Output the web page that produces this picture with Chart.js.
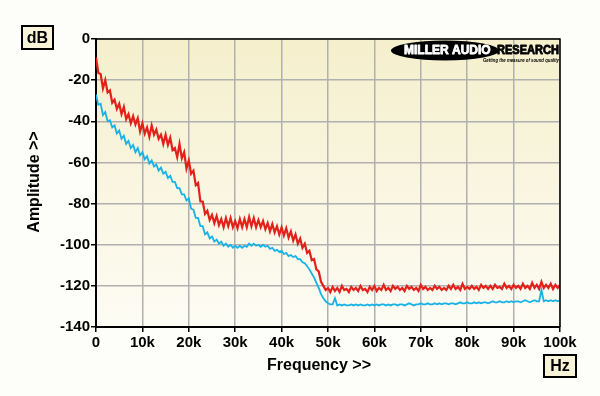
<!DOCTYPE html>
<html><head><meta charset="utf-8">
<script src="https://cdn.jsdelivr.net/npm/chart.js@4/dist/chart.umd.min.js"></script>
<style>html,body{margin:0;padding:0;background:#fdfdf9;}canvas{display:block;}</style>
</head><body>
<canvas id="c" width="600" height="396"></canvas>
<script>
// Sample spacing of the spectrum (Hz)
const freqStepHz = 500;

// Red trace (dB), 0 .. 100 kHz in 0.5 kHz steps
const redDb = [
 -9,-16.5,-17,-24,-20,-26,-25,-31,-29.5,-34,
 -31.5,-36.5,-33,-39,-36.5,-41,-37.5,-41.5,-38.5,-45,
 -41,-46,-43,-47.5,-42,-46.5,-44,-48.5,-46.5,-51,
 -46.5,-51.5,-48,-54,-53,-57.5,-51,-58,-55,-63,
 -59,-65.5,-64,-71,-70,-79,-79,-85,-83.5,-88,
 -85.5,-89.5,-86,-90.5,-87.5,-91.5,-87,-91,-87,-91.5,
 -88.5,-92,-87.5,-91.5,-87.5,-91.5,-86.5,-91,-87,-91.5,
 -88,-91.5,-88.5,-92.5,-89.5,-93.5,-90,-94,-91,-95,
 -91.5,-95.5,-92,-96.5,-93.5,-98,-95,-99.5,-97,-101.5,
 -99.5,-104,-103,-107.5,-107,-112,-113,-118,-120,-122,
 -121,-123,
 -120.5,-122.5,-121,-123,-120,-122,-121.5,-123,-120.5,-122,
 -121,-122.5,-120,-122,-121.5,-123,-120.5,-122,-120,-122.5,
 -121,-122,-119.5,-122,-121,-122.5,-120,-121.5,-120.5,-122,
 -121,-122.5,-120,-121.5,-120.5,-122,-121,-122.5,-119.5,-121.5,
 -120.5,-122,-121,-122,-120,-121.5,-120.5,-122,-121,-122,
 -120,-121.5,-119.5,-121.5,-120.5,-122,-119,-121.5,-120.5,-121.5,
 -120,-121.5,-120.5,-122,-119.5,-121,-120,-121.5,-120,-121.5,
 -119.5,-121,-120.5,-121.5,-119,-121,-120,-121.5,-119.5,-121,
 -120,-121.5,-119,-121,-120,-121.5,-118.5,-121,-119.5,-121.5,
 -118,-121,-119.5,-121,-119,-121.5,-119.5,-121,-119.5
];

// Blue trace (dB), 0 .. 100 kHz in 0.5 kHz steps
const blueDb = [
 -27,-32,-31.5,-37,-35.5,-40,-39.5,-43,-42,-46,
 -44.5,-48.5,-47,-51,-49.5,-53,-51.5,-55,-53,-56.5,
 -55,-58.5,-57,-60.5,-59,-62,-61,-64,-62.5,-65.5,
 -64.5,-67.5,-66.5,-69.5,-69.5,-72.5,-72.5,-75.5,-75.5,-78.5,
 -77.5,-82.5,-83,-87,-87,-91,-91,-95,-94,-97,
 -96,-98.5,-97.5,-99.5,-98.5,-100.5,-99.5,-101,-100,-101.5,
 -100.5,-101.5,-100.5,-101.5,-100.5,-101,-99.5,-100.5,-99.5,-100.5,
 -100,-101,-100,-101,-100.5,-102,-101.5,-103,-102.5,-103.5,
 -103,-104.5,-104,-105.5,-105,-106,-105.5,-107,-107,-108.5,
 -109,-110.5,-112,-114,-116,-118.5,-121,-124,-126,-127.5,
 -128.5,-129,
 -129,-126,-129.5,-129,-129.5,-129,-129.5,-129.5,-129,-129.5,
 -129,-129.5,-129,-129.5,-129.5,-129,-129.5,-129,-129.5,-129,
 -129.5,-129,-129,-129.5,-129,-129.5,-129,-129,-129.5,-129,
 -129,-129.5,-129,-128.5,-129,-129.5,-129,-129,-128.5,-129,
 -129,-128.5,-129,-129,-128.5,-129,-128.5,-129,-128.5,-128.5,
 -129,-128.5,-128.5,-129,-128.5,-128,-128.5,-128.5,-128,-128.5,
 -128.5,-128,-128.5,-128,-128.5,-128,-128,-128.5,-128,-127.5,
 -128,-128,-127.5,-128,-128,-127.5,-128,-127.5,-128,-127.5,
 -127.5,-128,-127.5,-127,-127.5,-128,-127.5,-127,-127.5,-127.5,
 -122,-127.5,-127,-127.5,-127,-127.5,-127,-127.5,-127
];

const xTickLabels = ['0','10k','20k','30k','40k','50k','60k','70k','80k','90k','100k'];
const yTickLabels = ['0','-20','-40','-60','-80','-100','-120','-140'];

const toPoints = arr => arr.map((v, i) => ({x: i * freqStepHz, y: v}));

const FONT = '"Liberation Sans", Arial, sans-serif';

const decor = {
  id: 'decor',
  beforeDraw(chart) {
    const c = chart.ctx, a = chart.chartArea;
    c.save();
    c.fillStyle = '#fdfdf9';
    c.fillRect(0, 0, chart.width, chart.height);
    const g = c.createLinearGradient(0, a.top, 0, a.bottom);
    g.addColorStop(0, '#f5efcc');
    g.addColorStop(1, '#fdfcf4');
    c.fillStyle = g;
    c.fillRect(a.left, a.top, a.right - a.left, a.bottom - a.top);
    c.restore();
  },
  afterDraw(chart) {
    const c = chart.ctx, a = chart.chartArea;
    c.save();
    // frame top/right
    c.strokeStyle = '#000';
    c.lineWidth = 1.5;
    c.beginPath();
    c.moveTo(a.left, a.top); c.lineTo(a.right, a.top); c.lineTo(a.right, a.bottom);
    c.stroke();
    // axis titles
    c.fillStyle = '#000';
    c.font = 'bold 16px ' + FONT;
    c.textAlign = 'center'; c.textBaseline = 'middle';
    c.fillText('Frequency >>', 319, 366);
    c.save();
    c.translate(35, 182);
    c.rotate(-Math.PI / 2);
    c.fillText('Amplitude >>', 0, 0);
    c.restore();
    // unit boxes
    const box = (x, y, w, h, t) => {
      c.fillStyle = '#f8f4da';
      c.fillRect(x, y, w, h);
      c.strokeStyle = '#000'; c.lineWidth = 2;
      c.strokeRect(x, y, w, h);
      c.fillStyle = '#000';
      c.font = 'bold 16px ' + FONT;
      c.fillText(t, x + w / 2, y + h / 2 + 1);
    };
    box(22, 26, 31, 23, 'dB');
    box(544, 355, 32, 22, 'Hz');
    // logo
    c.fillStyle = '#000';
    c.beginPath();
    c.ellipse(445, 50.5, 54, 10, 0, 0, Math.PI * 2);
    c.fill();
    c.textAlign = 'left';
    c.font = 'bold 12px ' + FONT;
    c.lineJoin = 'round';
    c.fillStyle = '#fff'; c.strokeStyle = '#fff'; c.lineWidth = 0.8;
    c.strokeText('MILLER AUDIO', 404, 51, 88);
    c.fillText('MILLER AUDIO', 404, 51, 88);
    c.fillStyle = '#000'; c.strokeStyle = '#000';
    c.strokeText('RESEARCH', 497, 51, 62);
    c.fillText('RESEARCH', 497, 51, 62);
    c.font = 'italic bold 6px ' + FONT;
    c.fillText('Getting the measure of sound quality', 483, 60, 76);
    c.restore();
  }
};

new Chart(document.getElementById('c'), {
  type: 'line',
  data: {
    datasets: [
      {data: toPoints(blueDb), borderColor: '#18b2e6', borderWidth: 1.8, pointRadius: 0, tension: 0},
      {data: toPoints(redDb), borderColor: '#e3211b', borderWidth: 2.2, pointRadius: 0, tension: 0}
    ]
  },
  options: {
    responsive: false,
    animation: false,
    devicePixelRatio: 1,
    layout: {padding: {top: 39, right: 40, left: 0, bottom: 0}},
    plugins: {legend: {display: false}, tooltip: {enabled: false}},
    scales: {
      x: {
        type: 'linear', min: 0, max: 100000,
        ticks: {stepSize: 10000, autoSkip: false, maxRotation: 0, padding: 2, color: '#000',
          font: {family: FONT, size: 15, weight: 'bold'},
          callback: (v) => xTickLabels[Math.round(v / 10000)]},
        grid: {color: '#b0b0b0', lineWidth: 1.5, tickLength: 5, tickColor: '#000', drawTicks: true},
        border: {display: true, color: '#000', width: 2},
        afterFit: s => { s.height = 69; }
      },
      y: {
        type: 'linear', min: -140, max: 0,
        ticks: {stepSize: 20, padding: 1, color: '#000',
          font: {family: FONT, size: 15, weight: 'bold'},
          callback: (v) => yTickLabels[Math.round(-v / 20)]},
        grid: {color: '#b0b0b0', lineWidth: 1.5, tickLength: 5, tickColor: '#000', drawTicks: true},
        border: {display: true, color: '#000', width: 2},
        afterFit: s => { s.width = 96; }
      }
    }
  },
  plugins: [decor]
});
</script>
</body></html>
